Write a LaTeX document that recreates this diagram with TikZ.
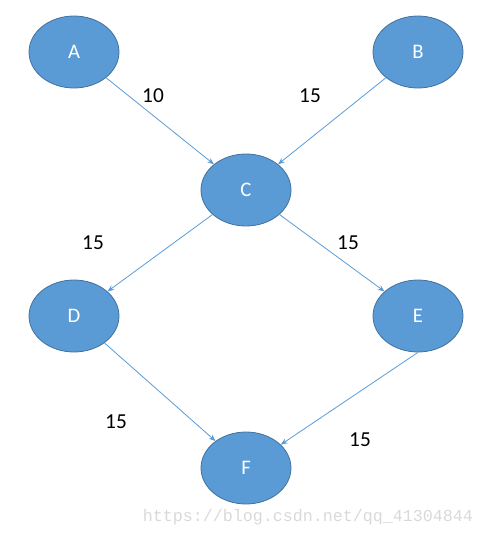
\documentclass[tikz,border=0pt]{standalone}
\usepackage{fontspec}
\setmainfont{Carlito}
\newfontfamily\wmfont{Liberation Mono}
\usetikzlibrary{shapes.geometric,arrows.meta}
\definecolor{nodefill}{HTML}{5B9BD5}
\definecolor{nodeline}{HTML}{41719C}
\definecolor{wm}{HTML}{D9D9D9}
\begin{document}
\begin{tikzpicture}[x=0.75pt,y=-0.75pt,
  vtx/.style={ellipse,draw=nodeline,fill=nodefill,line width=0.6pt,minimum width=67.5pt,minimum height=54pt,inner sep=0pt,text=white,font=\fontsize{15.5pt}{18pt}\selectfont},
  edge/.style={draw=nodefill,line width=0.6pt,-{Stealth[length=5pt,width=4pt]}},
  wlabel/.style={font=\fontsize{16pt}{18pt}\selectfont,text=black}]
\useasboundingbox (0,0) rectangle (484,537);
\node[vtx] (A) at (74,52) {A};
\node[vtx] (B) at (418,52) {B};
\node[vtx] (C) at (246,190) {C};
\node[vtx] (D) at (74,316) {D};
\node[vtx] (E) at (418,316) {E};
\node[vtx] (F) at (246,468) {F};
\draw[edge] (A) -- (C);
\draw[edge] (B) -- (C);
\draw[edge] (C) -- (D);
\draw[edge] (C) -- (E);
\draw[edge] (D) -- (F);
\draw[edge] (E.south) -- (F);
\node[wlabel] (l1) at (153,96) {10};
\node[wlabel] (l2) at (310,96) {15};
\node[wlabel] (l3) at (93,243) {15};
\node[wlabel] (l4) at (348,243) {15};
\node[wlabel] (l5) at (116,422) {15};
\node[wlabel] (l6) at (360,440) {15};
\node[font=\wmfont\fontsize{12.5pt}{14pt}\selectfont,text=wm] (wm) at (308,517) {https://blog.csdn.net/qq\_41304844};
\end{tikzpicture}
\end{document}
